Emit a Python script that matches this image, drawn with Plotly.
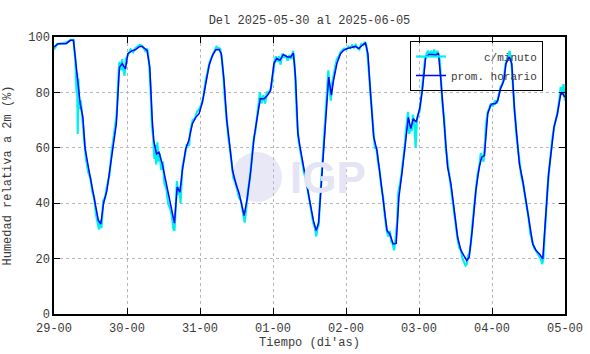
import plotly.graph_objects as go

title_text = "Del 2025-05-30 al 2025-06-05"
x_tick_labels = ["29-00", "30-00", "31-00", "01-00", "02-00", "03-00", "04-00", "05-00"]
x_tick_days = [0, 1, 2, 3, 4, 5, 6, 7]

# Hourly average (day index, hour of day, value)
hourly_day29_h = [0, 1.4, 4, 4.6, 5.4, 6.4, 7.5, 8.6, 9.5, 10.2, 11.3, 12.4, 13.5, 14.6, 15.4, 16.3, 17.4, 18.5, 19.6, 20.5, 21.5, 22.4, 23.5]
hourly_day29_v = [96.4, 97.6, 97.6, 98, 98.8, 98.8, 88, 76, 71, 60, 53, 47, 41, 33.7, 32.5, 40, 44.6, 53, 62.6, 68.7, 89, 90.4, 88.5]
hourly_day30_h = [0.3, 1.6, 2.7, 4.2, 5, 6.6, 7.5, 8.3, 8.8, 9.7, 10.5, 11.6, 12.7, 13.7, 14.8, 15.6, 16.5, 17.4, 18.2, 19.3, 20.3, 21.5, 22.6, 23.7]
hourly_day30_v = [94, 95, 95.4, 96.6, 96.6, 95.2, 89, 70, 62.6, 57.8, 58.4, 54.2, 48.2, 42.2, 36.1, 32.8, 45.8, 44, 51.8, 59.6, 62.6, 68.7, 71, 72.3]
hourly_day31_h = [0.8, 1.9, 3, 4.1, 5.2, 6.3, 7, 7.9, 8.8, 9.6, 10.7, 11.8, 12.9, 13.6, 14.5, 15.6, 16.7, 17.8, 18.9, 19.8, 21.1, 22.2, 23.2]
hourly_day31_v = [76.5, 83, 89.8, 93.4, 95.4, 95.5, 94, 84.3, 70, 62.6, 51.8, 47, 43.4, 40, 35.5, 42.2, 51.8, 63.9, 71, 77.7, 77.7, 79, 80.7]
hourly_day01_h = [0.3, 1.2, 2.3, 3.4, 4.7, 5.8, 6.7, 7.4, 8.2, 8.9, 10, 11.1, 12.2, 13.3, 14.2, 15, 15.8, 16.6, 17.5, 18.3, 19.2, 19.9, 21, 22.2, 23.2]
hourly_day01_v = [90.4, 92.2, 91.6, 93.7, 92.8, 92.8, 94.2, 85.5, 65, 60.2, 53, 47, 40, 33.7, 30.1, 33, 45.8, 61.4, 74.7, 85.5, 79, 84.3, 90.4, 94, 95.2]
hourly_day02_h = [0.3, 1.4, 3.1, 4.2, 5.3, 6.4, 7.2, 8, 9.1, 10.2, 11.3, 12.4, 13.5, 14.4, 15.5, 16.5, 17.4, 18.5, 19.6, 20.5, 21.3, 22.1, 23.1]
hourly_day02_v = [95.8, 96.1, 96.6, 95.8, 97, 97.8, 94, 80.7, 63.9, 59, 49.4, 40, 30.1, 28.9, 25.3, 25.5, 42.2, 51.8, 62.6, 71, 66.9, 70.5, 69.3]
hourly_day03_h = [0.3, 1.1, 2.2, 3.3, 4.4, 5.5, 6.4, 7.2, 8.3, 9.4, 10.5, 11.6, 12.7, 13.8, 14.9, 15.7, 16.5, 17.6, 18.7, 19.8, 20.6, 21.5, 22.6, 23.5]
hourly_day03_v = [74.7, 80.7, 92.8, 93.7, 93.7, 93.4, 94.2, 84.3, 68.7, 53, 47, 37.3, 27.7, 22.9, 20.5, 19.3, 20.5, 31.3, 44.6, 53, 56.6, 57.2, 72.3, 75.3]
hourly_day04_h = [0.2, 1.1, 1.9, 2.8, 3.9, 4.6, 5.7, 6.5, 7.4, 8.3, 9, 10.1, 11.2, 12.3, 13.4, 14.5, 15.6, 16.7, 17.6, 18.6, 19.5, 20.4, 21.5, 22.6, 23.3, 23.9]
hourly_day04_v = [75.9, 75.9, 77.1, 81.3, 84.3, 90.4, 92.8, 90.4, 73.5, 62.6, 54.2, 48.2, 41, 32.5, 25.3, 22.9, 21.7, 19.9, 34.9, 50.6, 59, 67.5, 72.3, 79.5, 79.5, 78.3]

# Per-minute readings
minute_day29_h = [0, 1, 3, 4.5, 5.5, 6.4, 7.0, 7.4, 7.6, 7.8, 8.0, 8.4, 8.8, 9.4, 10, 10.5, 11.3, 12, 12.6, 13.2, 13.8, 14.4, 14.8, 15.2, 15.6, 16.2, 16.8, 17.4, 18.2, 19, 19.6, 20.2, 20.6, 21.2, 21.5, 22, 22.4, 22.8, 23.2, 23.6]
minute_day29_v = [95.5, 97.5, 97.8, 98.2, 99, 99, 92, 80, 87, 65, 85, 74, 77, 70, 62, 56, 51, 49, 44, 42, 36, 33, 30.5, 34, 31, 41, 42, 46, 50, 59, 64, 67, 72, 86, 91, 88, 92, 88, 86, 92]
minute_day30_h = [0.4, 1.2, 2, 2.8, 3.5, 4.2, 5, 6, 6.7, 7.3, 7.8, 8.2, 8.6, 9.0, 9.3, 9.6, 10, 10.3, 10.8, 11.2, 11.8, 12.3, 13, 13.5, 14.2, 14.8, 15.2, 15.6, 16, 16.4, 16.8, 17.2, 17.6, 18.2, 19, 19.6, 20.4, 20.8, 21.6, 22.3, 23, 23.8]
minute_day30_v = [93.5, 95.5, 94.5, 96, 96.5, 97.2, 96.8, 95, 95.8, 90, 80, 68, 64, 56, 61, 54, 62, 55, 58, 52, 55, 47, 45, 40, 38, 35, 31, 30, 38, 48, 43, 46, 40, 53, 57, 61, 61, 66, 70, 70.5, 73, 74]
minute_day31_h = [0.6, 1.2, 1.8, 2.5, 3.2, 4, 4.8, 5.4, 6, 6.6, 7.2, 7.7, 8.2, 8.8, 9.3, 9.8, 10.4, 11, 11.6, 12.2, 12.8, 13.4, 14, 14.4, 14.7, 15.2, 15.8, 16.4, 17, 17.5, 18.2, 18.8, 19.3, 19.7, 20.2, 20.8, 21.4, 22, 22.7, 23.4]
minute_day31_v = [76, 79, 84, 87, 91, 93, 95, 96.5, 96, 95.8, 92, 86, 77, 68, 64, 60, 54, 49, 48, 45, 42, 41, 37, 34, 33, 38, 45, 49, 56, 62, 66, 72, 76, 80, 76, 79, 76, 80, 80, 82]
minute_day01_h = [0.2, 0.6, 1, 1.5, 2, 2.5, 3, 3.6, 4.2, 4.8, 5.4, 6, 6.6, 7.1, 7.5, 8, 8.5, 9, 9.6, 10.2, 10.8, 11.4, 12, 12.6, 13.2, 13.8, 14.2, 14.6, 15, 15.4, 15.8, 16.2, 16.6, 17, 17.4, 17.8, 18.2, 18.6, 19, 19.4, 19.8, 20.4, 21, 21.6, 22.2, 22.8, 23.4]
minute_day01_v = [88, 92, 93, 91, 93, 90, 94, 92.5, 93.5, 91.5, 93.5, 92, 95, 90, 80, 68, 62, 58, 55, 51, 49, 45, 41, 37, 33, 31, 28, 31, 32, 40, 47, 55, 62, 68, 76, 80, 88, 81, 77, 83, 86, 89, 92, 93, 94.5, 95, 95.8]
minute_day02_h = [0.2, 0.8, 1.4, 2, 2.6, 3.2, 3.8, 4.4, 5, 5.6, 6.2, 6.7, 7.2, 7.6, 8, 8.5, 9, 9.5, 10, 10.5, 11, 11.6, 12.2, 12.8, 13.4, 13.9, 14.4, 14.9, 15.3, 15.8, 16.3, 16.8, 17.2, 17.6, 18.2, 18.8, 19.3, 19.6, 20, 20.4, 20.8, 21.2, 21.6, 22, 22.5, 22.9, 23.3, 23.7]
minute_day02_v = [95.5, 96.5, 96, 97, 96.2, 97.2, 96, 95.5, 97.4, 97, 98.2, 97, 92, 86, 79, 70, 66, 60, 60, 55, 52, 46, 42, 35, 30, 28, 30, 26, 25.5, 23, 27, 33, 44, 46, 50, 56, 60, 65, 69, 73, 65, 68, 66, 72, 68, 60, 70, 72]
minute_day03_h = [0.2, 0.7, 1.2, 1.6, 2, 2.5, 3, 3.5, 4, 4.5, 5, 5.5, 6, 6.4, 6.8, 7.2, 7.7, 8.3, 8.8, 9.4, 10, 10.5, 11, 11.6, 12.2, 12.7, 13.2, 13.8, 14.3, 14.8, 15.3, 15.7, 16.1, 16.6, 17.1, 17.6, 18.1, 18.7, 19.2, 19.8, 20.3, 20.8, 21.2, 21.6, 22, 22.6, 23.1, 23.6]
minute_day03_v = [73, 78, 82, 88, 92, 94, 95, 93, 95, 93, 95.5, 93, 95, 93.5, 92, 85, 76, 70, 60, 55, 50, 45, 42, 36, 30, 27, 24, 23, 20, 19, 17.5, 18, 21, 22, 26, 33, 38, 44, 50, 53, 58, 57, 55, 60, 68, 73, 74, 76]
minute_day04_h = [0.3, 1, 1.6, 2.2, 2.8, 3.4, 4, 4.4, 4.9, 5.4, 5.8, 6.2, 6.6, 7, 7.5, 8, 8.5, 9, 9.6, 10.2, 10.8, 11.4, 12, 12.6, 13.2, 13.8, 14.4, 15, 15.5, 16, 16.5, 16.9, 17.3, 17.8, 18.3, 18.8, 19.3, 19.9, 20.5, 21, 21.6, 22.2, 22.6, 23, 23.5, 24]
minute_day04_v = [75, 77, 76, 79, 82, 83, 86, 90, 92, 93, 95, 92, 88, 80, 71, 65, 60, 55, 50, 47, 43, 39, 35, 29, 26, 24, 23, 22, 21, 20, 18, 20, 28, 38, 46, 52, 58, 64, 68, 70, 73, 78, 82, 79, 83, 77]

hourly_days = [(0, hourly_day29_h, hourly_day29_v), (1, hourly_day30_h, hourly_day30_v),
               (2, hourly_day31_h, hourly_day31_v), (3, hourly_day01_h, hourly_day01_v),
               (4, hourly_day02_h, hourly_day02_v), (5, hourly_day03_h, hourly_day03_v),
               (6, hourly_day04_h, hourly_day04_v)]
minute_days = [(0, minute_day29_h, minute_day29_v), (1, minute_day30_h, minute_day30_v),
               (2, minute_day31_h, minute_day31_v), (3, minute_day01_h, minute_day01_v),
               (4, minute_day02_h, minute_day02_v), (5, minute_day03_h, minute_day03_v),
               (6, minute_day04_h, minute_day04_v)]

hx, hy, mx, my = [], [], [], []
for d, hs, vs in hourly_days:
    hx += [d + h / 24 for h in hs]
    hy += vs
for d, hs, vs in minute_days:
    mx += [d + h / 24 for h in hs]
    my += vs

FONT = "Liberation Mono"
TXT = "#3a3a3a"
fig = go.Figure()
fig.add_trace(go.Scatter(x=mx, y=my, mode="lines", name="\u00a0\u00a0\u00a0\u00a0\u00a0c/minuto",
                         line=dict(color="#00f0f0", width=2.2)))
fig.add_trace(go.Scatter(x=hx, y=hy, mode="lines", name="prom. horario",
                         line=dict(color="#0000ff", width=1.5)))

# IGP watermark
fig.add_shape(type="circle", xref="paper", yref="paper", layer="below",
              x0=(232 - 54) / 511, x1=(282 - 54) / 511, y0=(314 - 202) / 277, y1=(314 - 152) / 277,
              fillcolor="#e8e8f6", line=dict(width=0))
fig.add_annotation(text="<b>IGP</b>", xref="paper", yref="paper", x=(288 - 54) / 511, y=(314 - 177) / 277,
                   showarrow=False, font=dict(family="Liberation Sans", size=44, color="#e4e4f4"),
                   xanchor="left", yanchor="middle")

axis_common = dict(showline=True, linecolor="black", linewidth=1.5, mirror="ticks",
                   ticks="inside", ticklen=6, tickcolor="black", tickwidth=1,
                   showgrid=True, gridcolor="#b8b8b8", griddash="dot", gridwidth=1,
                   zeroline=False, automargin=False,
                   tickfont=dict(family=FONT, size=12, color=TXT))

fig.update_layout(
    width=590, height=354,
    margin=dict(l=54, r=25, t=37, b=40),
    plot_bgcolor="white", paper_bgcolor="white",
    title=dict(text=title_text, x=(54 + 565) / 2 / 590, xanchor="center", y=0.945, yanchor="middle",
               font=dict(family=FONT, size=12, color=TXT)),
    xaxis=dict(range=[0, 7], tickvals=x_tick_days, ticktext=x_tick_labels, ticklabelstandoff=2,
               title=dict(text="Tiempo (di'as)", font=dict(family=FONT, size=12, color=TXT), standoff=0),
               **axis_common),
    yaxis=dict(range=[0, 100], tickvals=[0, 20, 40, 60, 80, 100],
               title=dict(text="Humedad relativa a 2m (%)", font=dict(family=FONT, size=12, color=TXT), standoff=14),
               **axis_common),
    legend=dict(x=(410 - 54) / 511, y=(314 - 41) / 277, xanchor="left", yanchor="top",
                bgcolor="rgba(0,0,0,0)", bordercolor="black", borderwidth=1,
                font=dict(family=FONT, size=11, color=TXT), tracegroupgap=0,
                itemwidth=30),
    showlegend=True,
)

fig.write_html("out.html", config={"displayModeBar": False},
               post_script="document.body.style.margin='0';document.body.style.overflow='hidden';")
